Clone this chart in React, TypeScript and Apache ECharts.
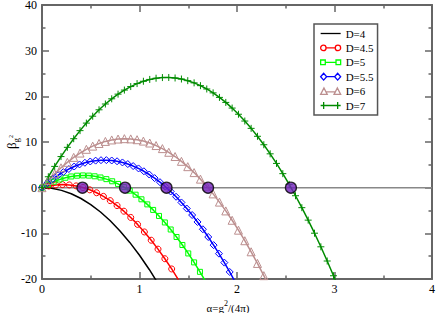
import React, { useEffect, useRef } from "react";
import * as echarts from "echarts";

const FONT = "Liberation Serif";

// D = 4 (line only)
const alphaD4 = [0, 0.1, 0.2, 0.3, 0.4, 0.5, 0.6, 0.7, 0.8, 0.9, 1.0, 1.1, 1.2];
const betaD4 = [0, -0.15, -0.59, -1.33, -2.37, -3.7, -5.33, -7.25, -9.47, -11.99, -14.8, -17.91, -21.31];

// D = 4.5
const alphaD45 = [0, 0.07, 0.14, 0.21, 0.28, 0.35, 0.42, 0.49, 0.56, 0.63, 0.7, 0.77, 0.84, 0.91, 0.98, 1.05, 1.12, 1.19, 1.26, 1.33, 1.4];
const betaD45 = [0, 0.37, 0.59, 0.67, 0.6, 0.39, 0.04, -0.47, -1.11, -1.91, -2.84, -3.92, -5.15, -6.52, -8.04, -9.7, -11.51, -13.46, -15.56, -17.8, -20.19];

// D = 5
const alphaD5 = [0, 0.06, 0.12, 0.18, 0.24, 0.3, 0.36, 0.42, 0.48, 0.54, 0.6, 0.66, 0.72, 0.78, 0.84, 0.9, 0.96, 1.02, 1.08, 1.14, 1.2, 1.26, 1.32, 1.38, 1.44, 1.5, 1.56, 1.62, 1.68];
const betaD5 = [0, 0.7, 1.3, 1.79, 2.17, 2.45, 2.62, 2.68, 2.64, 2.49, 2.23, 1.87, 1.4, 0.82, 0.14, -0.65, -1.54, -2.55, -3.66, -4.87, -6.19, -7.62, -9.16, -10.8, -12.55, -14.4, -16.36, -18.43, -20.6];

// D = 5.5
const alphaD55 = [0, 0.055, 0.11, 0.165, 0.22, 0.275, 0.33, 0.385, 0.44, 0.495, 0.55, 0.605, 0.66, 0.715, 0.77, 0.825, 0.88, 0.935, 0.99, 1.045, 1.1, 1.155, 1.21, 1.265, 1.32, 1.375, 1.43, 1.485, 1.54, 1.595, 1.65, 1.705, 1.76, 1.815, 1.87, 1.925, 1.98];
const betaD55 = [0, 1.0, 1.9, 2.72, 3.44, 4.08, 4.63, 5.08, 5.45, 5.73, 5.92, 6.02, 6.03, 5.95, 5.78, 5.52, 5.17, 4.73, 4.21, 3.59, 2.88, 2.09, 1.2, 0.23, -0.84, -1.99, -3.24, -4.57, -5.99, -7.51, -9.11, -10.8, -12.58, -14.45, -16.41, -18.46, -20.6];

// D = 6
const alphaD6 = [0, 0.065, 0.13, 0.195, 0.26, 0.325, 0.39, 0.455, 0.52, 0.585, 0.65, 0.715, 0.78, 0.845, 0.91, 0.975, 1.04, 1.105, 1.17, 1.235, 1.3, 1.365, 1.43, 1.495, 1.56, 1.625, 1.69, 1.755, 1.82, 1.885, 1.95, 2.015, 2.08, 2.145, 2.21, 2.275, 2.34];
const betaD6 = [0, 1.58, 3.03, 4.35, 5.55, 6.63, 7.58, 8.4, 9.1, 9.68, 10.13, 10.45, 10.65, 10.73, 10.68, 10.5, 10.2, 9.78, 9.22, 8.55, 7.75, 6.82, 5.77, 4.6, 3.3, 1.87, 0.32, -1.36, -3.16, -5.09, -7.14, -9.31, -11.62, -14.04, -16.59, -19.27, -22.07];

// D = 7
const alphaD7 = [0, 0.065, 0.13, 0.195, 0.26, 0.325, 0.39, 0.455, 0.52, 0.585, 0.65, 0.715, 0.78, 0.845, 0.91, 0.975, 1.04, 1.105, 1.17, 1.235, 1.3, 1.365, 1.43, 1.495, 1.56, 1.625, 1.69, 1.755, 1.82, 1.885, 1.95, 2.015, 2.08, 2.145, 2.21, 2.275, 2.34, 2.405, 2.47, 2.535, 2.6, 2.665, 2.73, 2.795, 2.86, 2.925, 2.99, 3.055];
const betaD7 = [0, 2.39, 4.66, 6.81, 8.83, 10.72, 12.49, 14.14, 15.65, 17.05, 18.32, 19.46, 20.48, 21.37, 22.14, 22.79, 23.3, 23.7, 23.97, 24.11, 24.13, 24.02, 23.79, 23.43, 22.95, 22.34, 21.61, 20.76, 19.77, 18.67, 17.43, 16.08, 14.59, 12.99, 11.25, 9.4, 7.41, 5.31, 3.07, 0.72, -1.77, -4.38, -7.11, -9.97, -12.95, -16.06, -19.29, -22.65];

// fixed points (zeros)
const zeroAlpha = [0.415, 0.852, 1.277, 1.703, 2.553];
const zeroBeta = [0, 0, 0, 0, 0];

const xTicks = [0, 1, 2, 3, 4];
const yTicks = [-20, -10, 0, 10, 20, 30, 40];

const zip = (xs: number[], ys: number[]) => xs.map((x, i) => [x, ys[i]]);

const PLUS = "path://M5,0L5,10M0,5L10,5";

// legend icons: line with a marker at both ends
const ICON_LINE = "path://M0,0L20,0L20,1.3L0,1.3Z";
const ICON_CIRCLE = "path://M0.4,4A2.6,2.6 0 1 1 5.6,4A2.6,2.6 0 1 1 0.4,4ZM5.6,4L14.4,4M14.4,4A2.6,2.6 0 1 1 19.6,4A2.6,2.6 0 1 1 14.4,4Z";
const ICON_RECT = "path://M0.5,1.7L4.9,1.7L4.9,6.1L0.5,6.1ZM4.9,4L15.1,4M15.1,1.7L19.5,1.7L19.5,6.1L15.1,6.1Z";
const ICON_DIAMOND = "path://M0,4L3,0.6L6,4L3,7.4ZM6,4L14,4M14,4L17,0.6L20,4L17,7.4Z";
const ICON_TRIANGLE = "path://M0,7L3.3,0.5L6.6,7ZM5,4.5L15,4.5M13.4,7L16.7,0.5L20,7Z";
const ICON_PLUS = "path://M0,4L20,4M3,0.5L3,7.5M17,0.5L17,7.5";

function curve(name: string, xs: number[], ys: number[], color: string, symbol: string, size: number, z = 3) {
  return {
    name,
    type: "line",
    data: zip(xs, ys),
    symbol,
    symbolSize: size,
    showSymbol: symbol !== "none",
    clip: true,
    z,
    lineStyle: { color, width: 1.5 },
    itemStyle: { color: "rgba(255,255,255,0)", borderColor: color, borderWidth: 1 },
    emphasis: { disabled: true },
  };
}

export default function App() {
  const ref = useRef<HTMLDivElement>(null);
  useEffect(() => {
    document.body.style.margin = "0";
    if (!ref.current) return;
    const chart = echarts.init(ref.current, undefined, { renderer: "svg" });
    const axisCommon = {
      type: "value",
      axisLine: { show: true, onZero: false, lineStyle: { color: "#666", width: 2 } },
      axisTick: { show: true, inside: true, length: 7, lineStyle: { color: "#666", width: 1.5 } },
      minorTick: { show: true, splitNumber: 2, length: 3.5, lineStyle: { color: "#666", width: 1.5 } },
      splitLine: { show: false },
    };
    chart.setOption({
      animation: false,
      backgroundColor: "#fff",
      textStyle: { fontFamily: FONT },
      grid: { left: 42, right: 4, top: 5, bottom: 34, containLabel: false, outerBoundsMode: "none" },
      legend: {
        data: [
          { name: "D=4", icon: ICON_LINE, itemStyle: { color: "#000", borderWidth: 0 } },
          { name: "D=4.5", icon: ICON_CIRCLE },
          { name: "D=5", icon: ICON_RECT },
          { name: "D=5.5", icon: ICON_DIAMOND },
          { name: "D=6", icon: ICON_TRIANGLE },
          { name: "D=7", icon: ICON_PLUS },
        ],
        orient: "vertical",
        left: 314,
        top: 24,
        itemWidth: 20,
        itemHeight: 8,
        itemGap: 3.4,
        padding: [4, 4, 4, 6],
        backgroundColor: "#fff",
        borderColor: "#555",
        borderWidth: 1.5,
        selectedMode: false,
        itemStyle: { color: "#fff", borderWidth: 1.3 },
        textStyle: { fontFamily: FONT, fontSize: 11, color: "#000", lineHeight: 8 },
      },
      xAxis: [
        {
          ...axisCommon,
          min: xTicks[0],
          max: xTicks[xTicks.length - 1],
          interval: 1,
          position: "bottom",
          axisLabel: { show: true, fontFamily: FONT, fontSize: 12, color: "#000", margin: 4 },
          name: "{a|α=g}{p|2}{a|/(4π)}",
          nameLocation: "middle",
          nameGap: 20,
          nameMoveOverlap: false,
          nameTextStyle: {
            padding: [0, 18, 0, 0],
            rich: {
              a: { fontFamily: FONT, fontSize: 11, color: "#000", lineHeight: 14, verticalAlign: "bottom" },
              p: { fontFamily: FONT, fontSize: 8, color: "#000", lineHeight: 14, verticalAlign: "top" },
            },
          },
        },
        {
          ...axisCommon,
          min: xTicks[0],
          max: xTicks[xTicks.length - 1],
          interval: 1,
          position: "top",
          axisLabel: { show: false },
        },
      ],
      yAxis: [
        {
          ...axisCommon,
          min: yTicks[0],
          max: yTicks[yTicks.length - 1],
          interval: 10,
          position: "left",
          axisLabel: { show: true, fontFamily: FONT, fontSize: 12, lineHeight: 10, color: "#000", margin: 5 },
          name: "{b|β}{s|g}{p|2}",
          nameLocation: "middle",
          nameRotate: 90,
          nameGap: 22,
          nameMoveOverlap: false,
          nameTextStyle: {
            rich: {
              b: { fontFamily: FONT, fontSize: 13, color: "#000", lineHeight: 18, verticalAlign: "middle" },
              s: { fontFamily: FONT, fontSize: 9, color: "#000", lineHeight: 18, verticalAlign: "bottom" },
              p: { fontFamily: FONT, fontSize: 6, color: "#000", lineHeight: 18, verticalAlign: "middle" },
            },
          },
        },
        {
          ...axisCommon,
          min: yTicks[0],
          max: yTicks[yTicks.length - 1],
          interval: 10,
          position: "right",
          axisLabel: { show: false },
        },
      ],
      series: [
        {
          name: "zero",
          type: "line",
          data: [[xTicks[0], 0], [xTicks[xTicks.length - 1], 0]],
          symbol: "none",
          z: 1,
          lineStyle: { color: "#888", width: 1.5 },
          emphasis: { disabled: true },
        },
        curve("D=4", alphaD4, betaD4, "#000000", "none", 0),
        curve("D=4.5", alphaD45, betaD45, "#ff0000", "circle", 6),
        curve("D=5", alphaD5, betaD5, "#00ff00", "rect", 5),
        curve("D=5.5", alphaD55, betaD55, "#0000ff", "diamond", 7),
        curve("D=6", alphaD6, betaD6, "#bc8f8f", "triangle", 8),
        curve("D=7", alphaD7, betaD7, "#008b00", PLUS, 7),
        {
          name: "fixed points",
          type: "scatter",
          data: zip(zeroAlpha, zeroBeta),
          symbol: "circle",
          symbolSize: 11,
          z: 10,
          itemStyle: { color: "#7221bc", borderColor: "#000", borderWidth: 1.3 },
          emphasis: { disabled: true },
        },
      ],
    });
    return () => chart.dispose();
  }, []);
  return <div ref={ref} style={{ width: 436, height: 313 }} />;
}
